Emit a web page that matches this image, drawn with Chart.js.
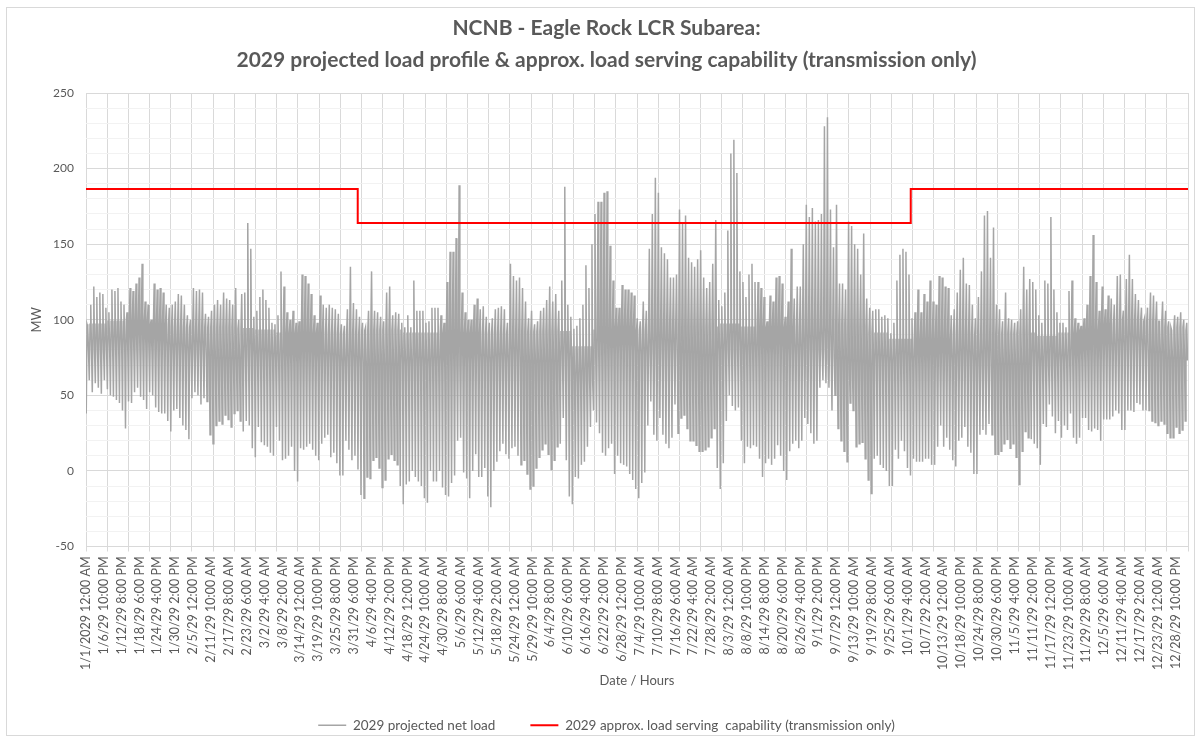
<!DOCTYPE html>
<html lang="en">
  <head>
    <meta charset="UTF-8" />
    <title>NCNB - Eagle Rock LCR Subarea</title>
    <script src="https://cdn.jsdelivr.net/npm/chart.js@4"></script>
    <style>
      body { margin: 0; background: #fff; }
    </style>
  </head>
  <body>
    <canvas id="myChart" width="1201" height="742"></canvas>

    <script>
      // x axis labels, one every 142 hours
      const tickLabels = [
        "1/1/2029 12:00 AM", "1/6/29 10:00 PM", "1/12/29 8:00 PM", "1/18/29 6:00 PM", "1/24/29 4:00 PM",
        "1/30/29 2:00 PM", "2/5/29 12:00 PM", "2/11/29 10:00 AM", "2/17/29 8:00 AM", "2/23/29 6:00 AM",
        "3/2/29 4:00 AM", "3/8/29 2:00 AM", "3/14/29 12:00 AM", "3/19/29 10:00 PM", "3/25/29 8:00 PM",
        "3/31/29 6:00 PM", "4/6/29 4:00 PM", "4/12/29 2:00 PM", "4/18/29 12:00 PM", "4/24/29 10:00 AM",
        "4/30/29 8:00 AM", "5/6/29 6:00 AM", "5/12/29 4:00 AM", "5/18/29 2:00 AM", "5/24/29 12:00 AM",
        "5/29/29 10:00 PM", "6/4/29 8:00 PM", "6/10/29 6:00 PM", "6/16/29 4:00 PM", "6/22/29 2:00 PM",
        "6/28/29 12:00 PM", "7/4/29 10:00 AM", "7/10/29 8:00 AM", "7/16/29 6:00 AM", "7/22/29 4:00 AM",
        "7/28/29 2:00 AM", "8/3/29 12:00 AM", "8/8/29 10:00 PM", "8/14/29 8:00 PM", "8/20/29 6:00 PM",
        "8/26/29 4:00 PM", "9/1/29 2:00 PM", "9/7/29 12:00 PM", "9/13/29 10:00 AM", "9/19/29 8:00 AM",
        "9/25/29 6:00 AM", "10/1/29 4:00 AM", "10/7/29 2:00 AM", "10/13/29 12:00 AM", "10/18/29 10:00 PM",
        "10/24/29 8:00 PM", "10/30/29 6:00 PM", "11/5/29 4:00 PM", "11/11/29 2:00 PM", "11/17/29 12:00 PM",
        "11/23/29 10:00 AM", "11/29/29 8:00 AM", "12/5/29 6:00 AM", "12/11/29 4:00 AM", "12/17/29 2:00 AM",
        "12/23/29 12:00 AM", "12/28/29 10:00 PM"
      ];
      const labelStep = 142;
      const hoursInYear = 8760;

      // daily afternoon peaks (MW)
      const dailyPeak = [
        95,110,122,115,118,117,108,105,120,119,121,112,110,105,121,119,124,128,137,112,110,100,124,120,121,118,110,108,110,112,117,116,110,103,100,121,119,120,118,104,102,
        106,110,113,110,118,114,113,110,121,100,117,118,164,147,102,106,115,120,113,108,98,97,103,132,122,105,100,106,98,99,130,129,124,117,103,98,116,110,108,110,
        108,107,104,97,96,107,135,111,107,102,98,95,106,132,106,105,102,99,118,122,103,105,104,98,95,103,95,126,106,106,106,98,99,108,108,108,103,98,125,145,
        145,154,189,118,105,100,100,110,114,107,109,102,98,101,107,108,109,107,98,137,129,126,128,121,112,101,106,97,99,106,108,113,122,112,117,106,126,188,110,102,
        94,96,101,110,136,121,150,170,178,178,184,185,149,126,108,108,123,120,120,118,116,101,99,112,106,147,170,194,184,148,144,140,128,128,130,173,164,169,141,138,135,
        140,146,128,121,125,137,166,113,109,118,159,210,219,197,132,125,115,130,137,125,125,121,115,99,116,112,128,129,124,102,112,147,114,122,122,150,176,168,174,165,166,
        170,228,234,173,148,176,124,124,120,165,162,150,147,130,157,114,108,106,107,107,102,103,101,91,98,126,143,147,145,130,101,105,120,105,117,112,126,112,110,129,
        128,122,121,103,107,118,133,141,124,123,110,101,115,132,169,172,141,161,110,107,99,118,101,100,98,99,107,135,120,127,125,120,103,98,126,124,168,120,105,98,
        98,95,119,126,101,98,96,101,110,129,156,125,106,122,107,116,114,110,129,130,106,127,143,127,117,113,108,101,108,118,116,112,99,112,106,99,93,103,102,105,100,98
      ];

      // daily night-time lows (MW)
      const dailyLow = [
        38,60,52,58,55,51,60,54,50,49,47,45,40,28,46,45,52,55,49,47,41,52,50,42,39,38,38,33,26,40,41,35,30,27,21,48,52,50,44,48,46,
        24,18,30,33,31,37,34,29,38,40,33,26,33,30,15,9,29,19,17,16,12,10,29,20,7,8,10,16,0,-7,15,14,16,18,14,10,7,18,22,24,
        9,12,5,-3,-3,20,14,7,10,1,-16,-18,-4,-5,7,9,2,-11,-6,8,11,7,4,-10,-22,-9,-7,0,-4,-7,-10,-18,-21,0,-7,-7,0,-11,-16,-17,
        -8,-3,20,22,-1,-5,-18,0,11,-4,-4,2,-17,-24,0,6,13,18,11,8,15,16,10,4,7,-2,-12,-10,2,9,14,18,11,1,7,16,18,35,7,-17,
        -22,-4,-5,4,6,16,29,40,32,25,12,10,15,18,-2,10,5,4,3,-2,-6,-12,-18,-8,-1,30,46,24,20,35,24,18,15,22,44,25,35,37,28,20,20,
        17,13,13,14,16,22,28,2,-12,5,33,50,43,40,42,20,5,16,15,17,16,8,-4,5,8,4,8,17,10,0,-6,13,18,20,15,20,35,31,25,18,20,
        55,60,58,55,40,50,28,20,13,6,45,40,16,18,19,8,-6,-15,8,10,4,2,0,-10,-10,14,8,20,13,2,-3,8,6,6,6,8,8,4,4,16,
        30,16,22,14,7,3,20,22,29,16,12,-2,-2,24,27,24,31,24,11,11,13,18,21,15,18,9,-9,13,26,22,21,18,15,4,31,29,44,36,25,33,
        22,30,27,38,22,18,22,35,35,27,26,28,27,20,34,34,34,36,40,38,27,27,40,40,39,45,44,40,40,40,33,32,30,33,31,25,22,22,29,25,27,33
      ];

      // upper and lower edge of the dense band, per week (MW)
      const bandTop = [
        97,99,99,97,95,95, 95,94,93,91,91,91, 91,93,93,91,91,91, 91,91,92,92,92,
        82,93,95,93,97,95, 95,97,95,95,95,97, 97,95,91,87,87,87, 91,89,91,91,89,91,
        93,97,100,99,95,93
      ];
      const bandBottom = [
        79,81,81,79,77,77, 75,75,73,71,71,71, 69,71,71,69,69,69, 71,71,73,73,73,
        58,77,79,77,79,79, 77,79,77,77,77,79, 75,73,71,71,71,71, 71,69,71,71,69,71,
        73,77,81,79,75,73
      ];

      // load serving capability steps (hour of year, MW)
      const capHours = [0, 2160, 6556, 8760];
      const capMW = [186.5, 164, 186.5, 186.5];

      const textColor = "#595959";
      const gridColor = "#d9d9d9";
      const fontFamily = "Lato, 'Open Sans', sans-serif";

      // each day: night low, morning ramp, afternoon peak, evening fall
      const loadPoints = [];
      dailyPeak.forEach((peak, d) => {
        const w = Math.floor(d / 7);
        const h0 = d * 24;
        loadPoints.push({ x: h0 + 2, y: dailyLow[d] });
        loadPoints.push({ x: h0 + 8, y: bandTop[w] });
        loadPoints.push({ x: h0 + 14, y: peak });
        loadPoints.push({ x: h0 + 20, y: bandBottom[w] });
      });
      const capPoints = capHours.map((h, i) => ({ x: h, y: capMW[i] }));

      const frame = {
        id: "frame",
        beforeDraw(chart) {
          const c = chart.ctx;
          c.save();
          c.fillStyle = "#fff";
          c.fillRect(0, 0, chart.width, chart.height);
          c.strokeStyle = gridColor;
          c.lineWidth = 1;
          c.strokeRect(6.5, 7.5, 1188, 728);
          c.restore();
        }
      };

      const ctx = document.getElementById("myChart").getContext("2d");
      const chart = new Chart(ctx, {
        type: "line",
        data: {
          datasets: [
            {
              label: "2029 projected net load",
              data: loadPoints,
              borderColor: "#a5a5a5",
              backgroundColor: "#a5a5a5",
              borderWidth: 1.5,
              pointRadius: 0,
              tension: 0,
              order: 1,
              xAxisID: "x"
            },
            {
              label: "2029 approx. load serving  capability (transmission only)",
              data: capPoints,
              borderColor: "#ff0000",
              backgroundColor: "#ff0000",
              borderWidth: 2,
              pointRadius: 0,
              stepped: "before",
              order: 0,
              xAxisID: "x"
            }
          ]
        },
        options: {
          responsive: false,
          animation: false,
          devicePixelRatio: 1,
          parsing: false,
          normalized: true,
          layout: { padding: { left: 25, right: 13, top: 0, bottom: 0 } },
          plugins: {
            tooltip: { enabled: false },
            title: {
              display: true,
              text: [
                "NCNB - Eagle Rock LCR Subarea:",
                "2029 projected load profile & approx. load serving capability (transmission only)"
              ],
              color: textColor,
              font: { family: fontFamily, size: 21, weight: "bold", lineHeight: 1.524 },
              padding: { top: 12, bottom: 17 }
            },
            legend: {
              position: "bottom",
              maxHeight: 65,
              labels: {
                usePointStyle: true,
                pointStyle: "line",
                pointStyleWidth: 28,
                padding: 35,
                color: textColor,
                font: { family: fontFamily, size: 13.5 },
                sort: (a, b) => a.datasetIndex - b.datasetIndex
              }
            }
          },
          scales: {
            x: {
              type: "linear",
              position: "bottom",
              weight: 0,
              min: 0,
              max: hoursInYear,
              ticks: { display: false, stepSize: 168, includeBounds: false },
              grid: { color: gridColor, drawTicks: true, tickLength: 5, tickColor: gridColor },
              border: { display: true, color: gridColor }
            },
            xLabels: {
              type: "linear",
              position: "bottom",
              weight: 1,
              min: 0,
              max: hoursInYear,
              afterBuildTicks: (axis) => {
                axis.ticks = tickLabels.map((_, i) => ({ value: i * labelStep }));
              },
              afterFit: (axis) => { axis.height = 132; },
              ticks: {
                autoSkip: false,
                minRotation: 90,
                maxRotation: 90,
                padding: 5,
                color: textColor,
                font: { family: fontFamily, size: 12.5 },
                callback: (value, index) => tickLabels[index]
              },
              grid: { display: false, drawTicks: false },
              border: { display: false },
              title: {
                display: true,
                text: "Date / Hours",
                color: textColor,
                font: { family: fontFamily, size: 13 },
                padding: { top: 4, bottom: -5 }
              }
            },
            y: {
              min: -50,
              max: 250,
              afterFit: (axis) => { axis.width = 61; },
              ticks: {
                stepSize: 10,
                autoSkip: false,
                padding: 12,
                color: textColor,
                font: { family: fontFamily, size: 12 },
                callback: (v) => (v % 50 === 0 ? v : "")
              },
              grid: {
                drawTicks: false,
                color: (c) => (c.tick && c.tick.value % 50 === 0 ? gridColor : "#f2f2f2")
              },
              border: { display: false },
              title: {
                display: true,
                text: "MW",
                color: textColor,
                font: { family: fontFamily, size: 13 }
              }
            }
          }
        },
        plugins: [frame]
      });
    </script>
  </body>
</html>
